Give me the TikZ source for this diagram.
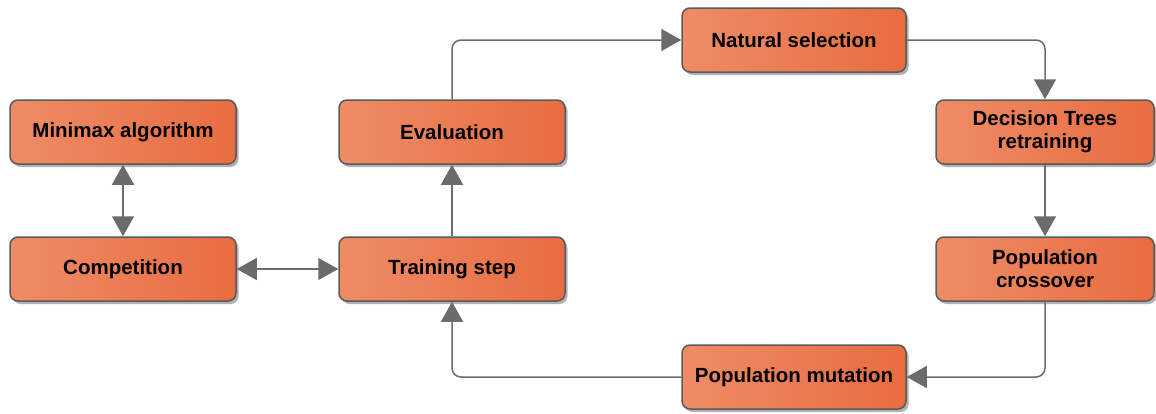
\documentclass[tikz,border=0pt]{standalone}
\usepackage{fontspec}
\setmainfont{Liberation Sans}
\usetikzlibrary{arrows.meta,shadows,positioning}
\definecolor{boxA}{HTML}{EE8C66}
\definecolor{boxB}{HTML}{E86C40}
\definecolor{boxline}{HTML}{5A5A5A}
\definecolor{conn}{HTML}{6B6B6B}
\tikzset{
  box/.style={draw=boxline, line width=1.5pt, rounded corners=8pt,
    left color=boxA, right color=boxB,
    minimum height=64pt, inner sep=2pt, align=center,
    font=\fontsize{20.5}{23}\selectfont\bfseries,
    drop shadow={shadow xshift=2.5pt, shadow yshift=-3pt, fill=black, opacity=0.3}},
  conline/.style={draw=conn, line width=1.5pt, rounded corners=9pt,
    -{Triangle[length=20pt,width=22pt]}},
  dconline/.style={draw=conn, line width=1.5pt,
    {Triangle[length=20pt,width=22pt]}-{Triangle[length=20pt,width=22pt]}}
}
\begin{document}
\begin{tikzpicture}[x=1pt,y=-1pt]
\useasboundingbox (0,0) rectangle (1156,413);
\node[box, minimum width=226pt] (mini) at (123,132) {Minimax algorithm};
\node[box, minimum width=226pt] (comp) at (123,269) {Competition};
\node[box, minimum width=226pt] (eval) at (452,132) {Evaluation};
\node[box, minimum width=226pt] (train) at (452,269) {Training step};
\node[box, minimum width=224pt] (nat) at (794,40) {Natural selection};
\node[box, minimum width=218pt] (dec) at (1045,132) {Decision Trees\\retraining};
\node[box, minimum width=218pt] (cross) at (1045,269) {Population\\crossover};
\node[box, minimum width=224pt] (mut) at (794,377) {Population mutation};

\draw[dconline] (mini.south) -- (comp.north);
\draw[dconline] (comp.east) -- (train.west);
\draw[conline] (train.north) -- (eval.south);
\draw[conline] (eval.north) |- (nat.west);
\draw[conline] (nat.east) -| (dec.north);
\draw[conline] (dec.south) -- (cross.north);
\draw[conline] (cross.south) |- (mut.east);
\draw[conline] (mut.west) -| (train.south);
\end{tikzpicture}
\end{document}
